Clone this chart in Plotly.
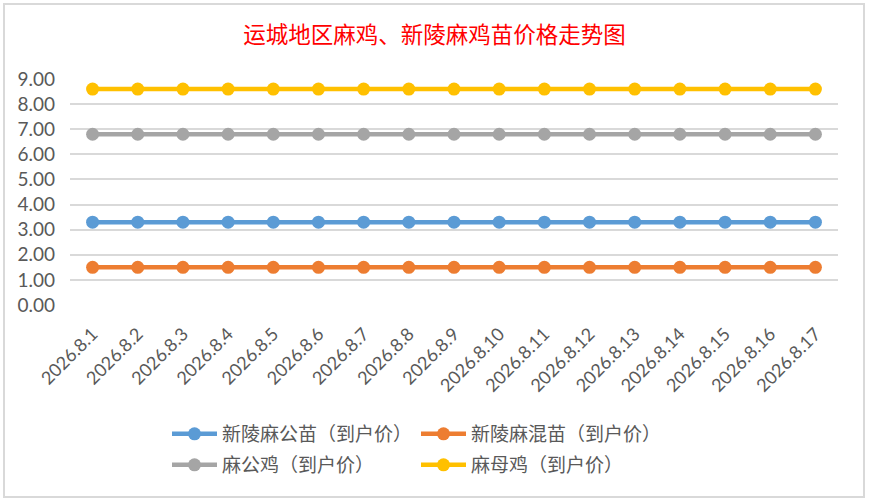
import plotly.graph_objects as go

# dates on the category axis
dates = ["2026.8." + str(d) for d in range(1, 18)]

# prices (yuan)
gongmiao = [3.3] * 17      # 新陵麻公苗
hunmiao = [1.5] * 17       # 新陵麻混苗
gongji = [6.8] * 17        # 麻公鸡
muji = [8.6] * 17          # 麻母鸡

names = ["新陵麻公苗（到户价）", "新陵麻混苗（到户价）", "麻公鸡（到户价）", "麻母鸡（到户价）"]
colors = ["#5B9BD5", "#ED7D31", "#A5A5A5", "#FFC000"]
series = [gongmiao, hunmiao, gongji, muji]
legend_rows = ["legend", "legend", "legend2", "legend2"]

fig = go.Figure()
for nm, col, vals, lg in zip(names, colors, series, legend_rows):
    fig.add_trace(go.Scatter(x=dates, y=vals, name=nm, mode="lines+markers",
                             line=dict(color=col, width=4.5),
                             marker=dict(color=col, size=13), legend=lg))

W, H = 869, 501
L, R, T, B = 70, 31, 79, 196
pw, ph = W - L - R, H - T - B

def px_x(x):
    return (x - L) / pw

def px_y(y):
    return (H - B - y) / ph

legend_style = dict(orientation="h", x=px_x(416), xanchor="center", yanchor="top",
                    entrywidth=189, entrywidthmode="pixels", tracegroupgap=0,
                    font=dict(family="Noto Sans CJK SC", size=19, color="#595959"),
                    itemwidth=45, bgcolor="rgba(0,0,0,0)")

fig.update_layout(
    width=W, height=H,
    margin=dict(l=L, r=R, t=T, b=B, autoexpand=False),
    paper_bgcolor="white", plot_bgcolor="white",
    font=dict(family="Lato, Noto Sans CJK SC", color="#595959", size=16),
    title=dict(text="运城地区麻鸡、新陵麻鸡苗价格走势图", x=0.5, xanchor="center",
               y=1 - 35 / H, yanchor="middle",
               font=dict(family="Noto Sans CJK SC", color="#FF0000", size=22.5)),
    xaxis=dict(type="category", range=[-0.5, 16.5], showgrid=False, showline=False,
               ticks="", tickangle=-45, ticklabelstandoff=14,
               tickfont=dict(size=18, color="#595959")),
    yaxis=dict(range=[0, 9], dtick=1, tickformat=".2f", showgrid=True,
               gridcolor="#D9D9D9", gridwidth=1.5, zeroline=False, showline=False,
               ticks="", ticklabelstandoff=14, tickfont=dict(size=19, color="#595959")),
    legend=dict(legend_style, y=px_y(415)),
    legend2=dict(legend_style, y=px_y(446)),
    showlegend=True,
    shapes=[dict(type="rect", xref="paper", yref="paper",
                 x0=px_x(4), x1=px_x(864), y0=px_y(497), y1=px_y(4),
                 line=dict(color="#D9D9D9", width=2), fillcolor="rgba(0,0,0,0)",
                 layer="below")],
)

fig.write_html("out.html", config={"displayModeBar": False},
               post_script="document.body.style.margin='0';")
